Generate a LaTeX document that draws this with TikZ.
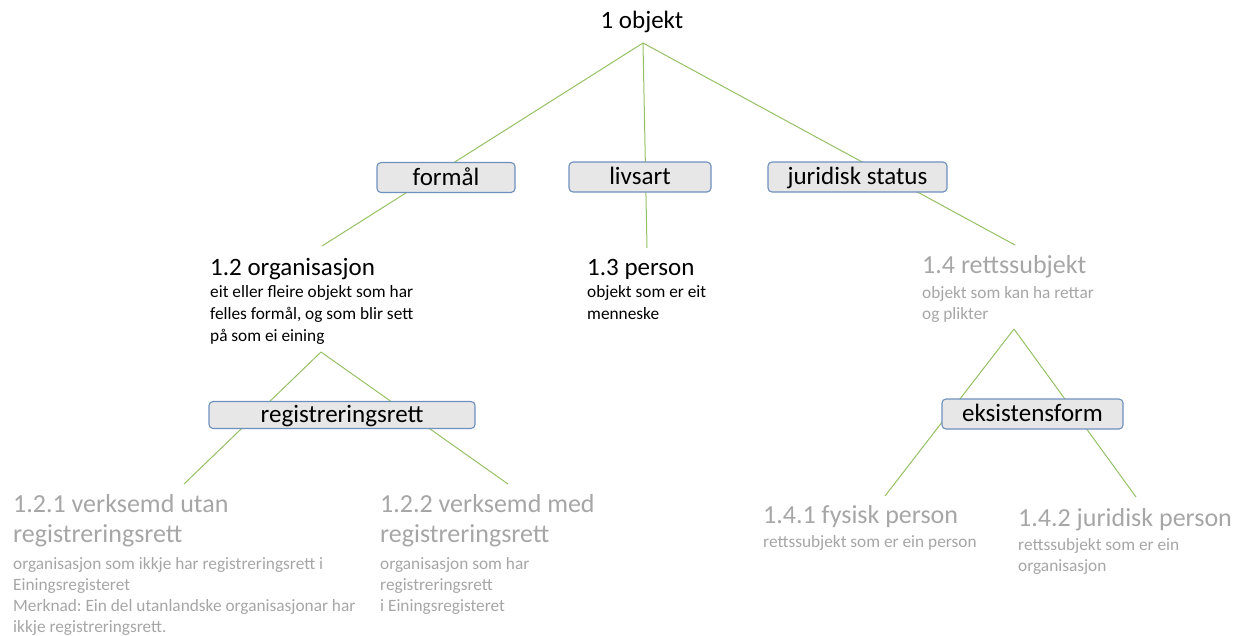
\documentclass[tikz,border=0pt]{standalone}
\usepackage{fontspec}
\setmainfont{Carlito}
\frenchspacing
\definecolor{linie}{RGB}{150,192,100}
\definecolor{rand}{RGB}{110,144,190}
\definecolor{feld}{RGB}{231,231,231}
\definecolor{grau}{RGB}{166,166,166}

\tikzset{
  kasten/.style={draw=rand, line width=1.1pt, fill=feld, rounded corners=4pt,
    minimum height=30pt, inner sep=0pt, text height=19pt, text depth=4pt,
    font=\fontsize{25}{30}\selectfont},
  ast/.style={draw=linie, line width=1pt},
  kopf/.style={inner sep=0pt, font=\fontsize{25}{30}\selectfont},
  graukopf/.style={inner sep=0pt, text=grau, font=\fontsize{26}{30}\selectfont},
  besk/.style={anchor=north west, inner sep=0pt, align=left,
    font=\fontsize{17.3}{21}\selectfont},
}

\begin{document}
\begin{tikzpicture}[x=1pt, y=-1pt]
\useasboundingbox (0,0) rectangle (1241,635);

    % Wurzel
    \node[kopf, anchor=base] (objekt) at (642,28) {1 objekt};

    % Verzweigungspunkte und Astenden
    \coordinate (spitze) at (643,43);
    \coordinate (orgende) at (322,246);
    \coordinate (persende) at (647,248);
    \coordinate (rsende) at (1015,245);
    \coordinate (regspitze) at (321,352);
    \coordinate (reg1ende) at (184,484);
    \coordinate (reg2ende) at (508,484);
    \coordinate (rsspitze) at (1014,329);
    \coordinate (eks1ende) at (885,496);
    \coordinate (eks2ende) at (1136,497);

    % Aeste
    \draw[ast] (spitze) -- (orgende);
    \draw[ast] (spitze) -- (persende);
    \draw[ast] (spitze) -- (rsende);
    \draw[ast] (regspitze) -- (reg1ende);
    \draw[ast] (regspitze) -- (reg2ende);
    \draw[ast] (rsspitze) -- (eks1ende);
    \draw[ast] (rsspitze) -- (eks2ende);

    % Kaesten
    \node[kasten, minimum width=138pt] (formaal) at (446,177.5) {formål};
    \node[kasten, minimum width=142pt] (livsart) at (640,177) {livsart};
    \node[kasten, minimum width=179pt] (jurstatus) at (857.5,177) {juridisk status};
    \node[kasten, minimum width=266pt, minimum height=27pt] (regrett) at (342,415) {registreringsrett};
    \node[kasten, minimum width=181pt] (eksform) at (1032.5,414) {eksistensform};

    % 1.2 organisasjon
    \node[kopf, anchor=base west] (org) at (210,275) {1.2 organisasjon};
    \node[besk, font=\fontsize{17.3}{22}\selectfont] (orgtxt) at (210,285) {eit eller fleire objekt som har\\felles formål, og som blir sett\\på som ei eining};

    % 1.3 person
    \node[kopf, anchor=base west] (person) at (587,275) {1.3 person};
    \node[besk, font=\fontsize{17.3}{22}\selectfont] (persontxt) at (587,285) {objekt som er eit\\menneske};

    % 1.4 rettssubjekt
    \node[graukopf, anchor=base west] (rs) at (922,273) {1.4 rettssubjekt};
    \node[besk, text=grau] (rstxt) at (922,286) {objekt som kan ha rettar\\og plikter};

    % 1.2.1 / 1.2.2
    \node[graukopf, anchor=north west, align=left] (utan) at (13,494) {1.2.1 verksemd utan\\registreringsrett};
    \node[besk, text=grau] (utantxt) at (13,557) {organisasjon som ikkje har registreringsrett i\\Einingsregisteret\\Merknad: Ein del utanlandske organisasjonar har\\ikkje registreringsrett.};
    \node[graukopf, anchor=north west, align=left] (med) at (380,494) {1.2.2 verksemd med\\registreringsrett};
    \node[besk, text=grau] (medtxt) at (380,557) {organisasjon som har\\registreringsrett\\i Einingsregisteret};

    % 1.4.1 / 1.4.2
    \node[graukopf, anchor=base west] (fysisk) at (763,523) {1.4.1 fysisk person};
    \node[besk, text=grau] (fysisktxt) at (763,535) {rettssubjekt som er ein person};
    \node[graukopf, anchor=base west] (juridisk) at (1018,526) {1.4.2 juridisk person};
    \node[besk, text=grau] (juridisktxt) at (1018,538) {rettssubjekt som er ein\\organisasjon};

\end{tikzpicture}
\end{document}
